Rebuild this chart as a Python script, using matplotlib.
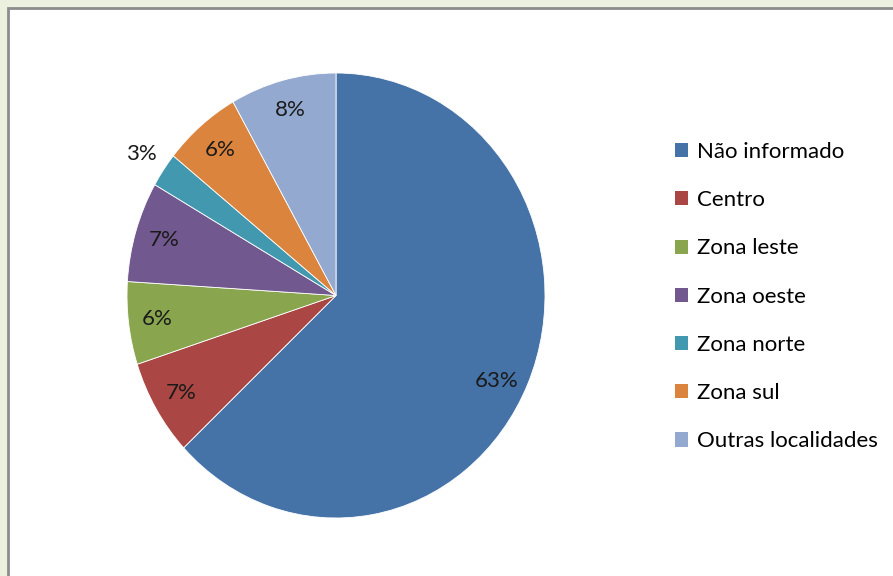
import matplotlib
matplotlib.use("Agg")
import matplotlib.pyplot as plt
import matplotlib.patches as mpatches
import numpy as np

plt.rcParams['font.family'] = ['Lato', 'DejaVu Sans']

# dados do gráfico
regioes = ['Não informado', 'Centro', 'Zona leste', 'Zona oeste',
           'Zona norte', 'Zona sul', 'Outras localidades']
valores = [63, 7, 6, 7.3, 2.5, 6, 8.2]
cores = ['#4572A7', '#AA4643', '#89A54E', '#71588F', '#4198AF', '#DB843D', '#93A9CF']

W, H = 893, 576
fig = plt.figure(figsize=(W / 100, H / 100), dpi=100, facecolor='#EBF1DE')

# caixa branca do gráfico
fig.patches.append(mpatches.Rectangle((8 / W, 0 - 0.01), 1.0, (H - 8) / H + 0.01,
                                      transform=fig.transFigure, facecolor='white',
                                      edgecolor='#8C8C8C', linewidth=2, zorder=-1))

ax = fig.add_axes([127 / W, (H - 518) / H, 418 / W, 445 / H])
ax.patch.set_alpha(0)
fatias, textos = ax.pie(valores, colors=cores, startangle=90, counterclock=False,
                        wedgeprops=dict(edgecolor='white', linewidth=0.6))
ax.set_aspect('auto')
ax.set_xlim(-1, 1)
ax.set_ylim(-1, 1)
ax.axis('off')

# rótulos de porcentagem
total = sum(valores)
inicio = 90.0
for i, v in enumerate(valores):
    ang = inicio - 360 * v / total / 2
    inicio -= 360 * v / total
    r = 1.13 if v < 3 else 0.86
    if v > 50:
        ang -= 3
    ax.text(r * np.cos(np.radians(ang)), r * np.sin(np.radians(ang)),
            f'{int(v + 0.5)}%', ha='center', va='center', fontsize=16, color='#1a1a1a')

# legenda
alcas = [mpatches.Patch(facecolor=c, edgecolor='none') for c in cores]
fig.legend(alcas, regioes, loc='upper left', bbox_to_anchor=(675 / W, 1 - 142 / H),
           frameon=False, fontsize=16, handlelength=0.6, handleheight=0.6,
           handletextpad=0.4, labelspacing=1.27, borderaxespad=0, borderpad=0)

fig.savefig('out.png', dpi=100, facecolor=fig.get_facecolor())
